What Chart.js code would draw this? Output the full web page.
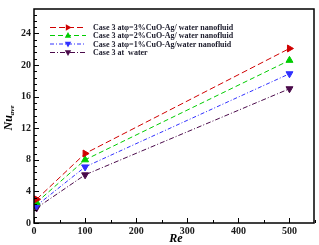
<!DOCTYPE html>
<html><head><meta charset="utf-8">
<script src="https://cdn.jsdelivr.net/npm/chart.js@4/dist/chart.umd.min.js"></script>
<style>html,body{margin:0;padding:0;background:#fff;}#wrap{width:319px;height:245px;}</style>
</head><body><div id="wrap"><canvas id="c" width="319" height="245"></canvas></div>
<script>
const reValues = [5, 100, 500];
const nuPhi3 = [3.0, 8.8, 22.1];
const nuPhi2 = [2.6, 8.0, 20.6];
const nuPhi1 = [2.2, 7.1, 18.9];
const nuWater = [1.9, 6.1, 17.0];
const seriesLabels = [
  "Case 3 at\u03C6=3%CuO-Ag/ water nanofluid",
  "Case 3 at\u03C6=2%CuO-Ag/ water nanofluid",
  "Case 3 at\u03C6=1%CuO-Ag/water nanofluid",
  "Case 3 at  water"
];
const xTickLabels = [0, 100, 200, 300, 400, 500];
const yTickLabels = [0, 4, 8, 12, 16, 20, 24];

const styles = [
  {color:'#d00000', dash:[6,3], shape:'triangle', rot:90},
  {color:'#00cc00', dash:[5,3], shape:'triangle', rot:0},
  {color:'#3030ff', dash:[4,2,1,2], shape:'triangle', rot:180},
  {color:'#4a0a4a', dash:[5,2,1,2], shape:'triangle', rot:180}
];
const allSeries = [nuPhi3, nuPhi2, nuPhi1, nuWater];
const datasets = allSeries.map((s,i)=>({
  label: seriesLabels[i],
  data: reValues.map((x,j)=>({x:x, y:s[j]})),
  borderColor: styles[i].color,
  backgroundColor: styles[i].color,
  borderWidth: 1,
  borderDash: styles[i].dash,
  pointStyle: styles[i].shape,
  pointRotation: styles[i].rot,
  pointRadius: 4,
  pointBorderWidth: 1,
  showLine: true,
  tension: 0
}));

const serif = '"Liberation Serif","DejaVu Serif",serif';

const decor = {
  id:'decor',
  afterDraw(chart){
    const ctx = chart.ctx, a = chart.chartArea;
    const xs = chart.scales.x, ys = chart.scales.y;
    ctx.save();
    ctx.strokeStyle = '#000';
    ctx.lineWidth = 1;
    ctx.setLineDash([]);
    for (let v = 0; v <= 550; v += 50) {
      const px = Math.round(xs.getPixelForValue(v)) + 0.5;
      const len = (v % 100 === 0) ? 5 : 3;
      ctx.beginPath(); ctx.moveTo(px, a.bottom); ctx.lineTo(px, a.bottom - len); ctx.stroke();
    }
    for (let k = 0; k * 0.8 <= 27; k++) {
      const v = k * 0.8;
      const py = Math.round(ys.getPixelForValue(v)) + 0.5;
      const len = (k % 5 === 0) ? 5 : 3;
      ctx.beginPath(); ctx.moveTo(a.left, py); ctx.lineTo(a.left + len, py); ctx.stroke();
    }
    ctx.lineWidth = 1.5;
    ctx.strokeRect(a.left, a.top, a.right - a.left, a.bottom - a.top);
    ctx.fillStyle = '#000';
    ctx.font = 'italic bold 12px ' + serif;
    ctx.textAlign = 'center'; ctx.textBaseline = 'middle';
    ctx.fillText('Re', (a.left + a.right) / 2 + 2, 239);
    ctx.save();
    ctx.translate(9, 118);
    ctx.rotate(-Math.PI / 2);
    ctx.textAlign = 'left';
    ctx.font = 'italic bold 12px ' + serif;
    const w1 = ctx.measureText('Nu').width;
    ctx.font = 'italic bold 7px ' + serif;
    const w2 = ctx.measureText('ave').width;
    const x0 = -(w1 + w2) / 2;
    ctx.font = 'italic bold 12px ' + serif;
    ctx.fillText('Nu', x0, 0);
    ctx.font = 'italic bold 7px ' + serif;
    ctx.fillText('ave', x0 + w1, 3);
    ctx.restore();
    const rows = [27.5, 35.5, 44, 52.5];
    chart.data.datasets.forEach((ds, i) => {
      const y = rows[i];
      ctx.strokeStyle = ds.borderColor;
      ctx.lineWidth = 1;
      ctx.setLineDash(ds.borderDash);
      ctx.beginPath(); ctx.moveTo(50, y); ctx.lineTo(86, y); ctx.stroke();
      ctx.setLineDash([]);
      ctx.fillStyle = ds.borderColor;
      ctx.save();
      ctx.translate(68, y);
      ctx.rotate(ds.pointRotation * Math.PI / 180);
      ctx.beginPath();
      ctx.moveTo(0, -3.5); ctx.lineTo(3.2, 2.2); ctx.lineTo(-3.2, 2.2); ctx.closePath();
      ctx.fill();
      ctx.restore();
      ctx.fillStyle = '#1a1a2a';
      ctx.font = 'bold 8px ' + serif;
      ctx.textAlign = 'left'; ctx.textBaseline = 'middle';
      ctx.fillText(ds.label, 93, y + 0.5);
    });
    ctx.restore();
  }
};

new Chart(document.getElementById('c'), {
  type: 'line',
  data: { datasets },
  options: {
    responsive: false,
    animation: false,
    layout: { padding: { top: 4, right: 5, left: 0, bottom: 0 } },
    plugins: { legend: { display: false }, tooltip: { enabled: false } },
    scales: {
      x: {
        type: 'linear', min: 0, max: 548,
        grid: { display: false, drawTicks: false },
        border: { display: false },
        afterBuildTicks(s){ s.ticks = xTickLabels.map(v => ({value: v})); },
        afterFit(s){ s.height = 22; },
        ticks: { padding: 2, color: '#1a1a1a', font: { family: serif, size: 10, weight: 'bold' } },
        title: { display: false, text: 'Re' }
      },
      y: {
        type: 'linear', min: 0, max: 27.1,
        grid: { display: false, drawTicks: false },
        border: { display: false },
        afterBuildTicks(s){ s.ticks = yTickLabels.map(v => ({value: v})); },
        afterFit(s){ s.width = 34; },
        ticks: { padding: 3, color: '#1a1a1a', font: { family: serif, size: 10, weight: 'bold' } },
        title: { display: false, text: 'Nu ave' }
      }
    }
  },
  plugins: [decor]
});
</script></body></html>
